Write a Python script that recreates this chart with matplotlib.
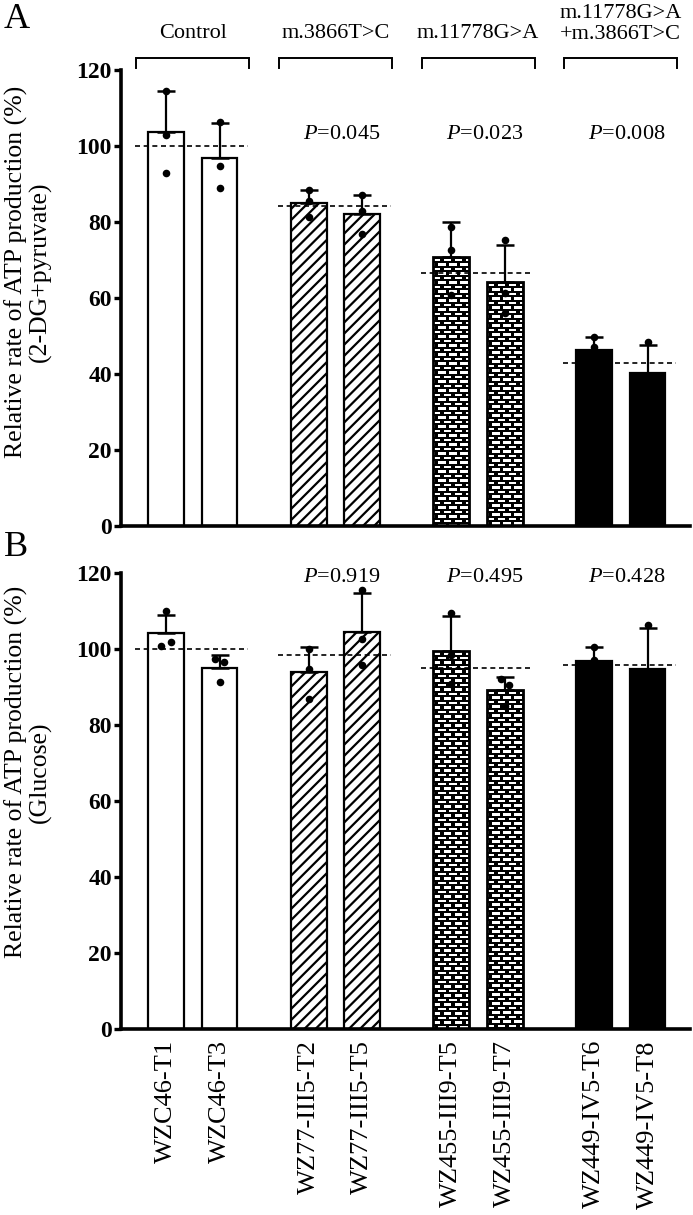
import numpy as np
import matplotlib
matplotlib.use('Agg')
import matplotlib.pyplot as plt
from matplotlib.patches import Rectangle

plt.rcParams['font.family'] = ['Liberation Serif', 'DejaVu Serif']
plt.rcParams['mathtext.fontset'] = 'custom'
plt.rcParams['mathtext.rm'] = 'Liberation Serif'
plt.rcParams['mathtext.it'] = 'Liberation Serif:italic'
plt.rcParams['hatch.linewidth'] = 1.6

# ---------------- data ----------------
samples = ['WZC46-T1', 'WZC46-T3', 'WZ77-III5-T2', 'WZ77-III5-T5',
           'WZ455-III9-T5', 'WZ455-III9-T7', 'WZ449-IV5-T6', 'WZ449-IV5-T8']
groups = ['Control', 'm.3866T>C', 'm.11778G>A', 'm.11778G>A\n+m.3866T>C']

a_means = [103.6, 96.8, 85.0, 82.2, 70.7, 64.2, 46.3, 40.3]
a_err = [10.9, 9.3, 3.4, 4.9, 9.2, 9.7, 3.4, 7.3]
a_points = [[114.6, 103.0, 92.8], [106.3, 94.8, 88.9], [88.4, 85.4, 81.2],
            [87.0, 82.9, 76.8], [78.7, 72.6, 60.8], [75.3, 61.2, 56.1],
            [49.7, 47.0, 42.2], [48.4, 38.5, 34.0]]
a_group_mean = [100.0, 84.1, 66.5, 42.9]
a_p = ['', '0.045', '0.023', '0.008']

b_means = [104.2, 95.1, 93.9, 104.6, 99.6, 89.2, 96.9, 94.7]
b_err = [4.8, 3.2, 6.5, 10.1, 9.2, 3.4, 3.5, 10.9]
b_points = [[109.9, 100.8, 101.8], [97.4, 96.5, 91.4], [99.9, 94.8, 86.9],
            [115.5, 102.6, 95.7], [109.5, 98.4, 90.9], [92.2, 90.4, 85.0],
            [100.4, 97.2, 93.1], [106.4, 91.0, 86.7]]
b_group_mean = [100.0, 98.4, 94.9, 95.8]
b_p = ['', '0.919', '0.495', '0.428']

ylabels = ['Relative rate of ATP production (%)\n(2-DG+pyruvate)',
           'Relative rate of ATP production (%)\n(Glucose)']
yticks = [0, 20, 40, 60, 80, 100, 120]

# ---------------- style ----------------
styles = ['open', 'hatch', 'brick', 'solid']
group_step = 8 / 3
xpos = [g * group_step + i for g in range(4) for i in range(2)]
bar_w = 0.67
# small horizontal offsets of dots (style only)
a_jit = [[0, 0, 0]] * 8
b_jit = [[0, -0.085, 0.085], [-0.085, 0.085, 0], [0, 0, 0], [0, 0, 0],
         [0, 0, 0], [-0.08, 0.08, 0], [0, 0, 0], [0, 0, 0]]

W, H = 693, 1215
fig = plt.figure(figsize=(W / 100, H / 100), dpi=100)
ax_left = 121
ax_right = 690
pxu = 53.5
x0 = (ax_left - 166) / pxu
x1 = (ax_right - 166) / pxu
axA = fig.add_axes([ax_left / W, 1 - 526 / H, (ax_right - ax_left) / W, 456 / H])
axB = fig.add_axes([ax_left / W, 1 - 1029 / H, (ax_right - ax_left) / W, 456 / H])


def brick_texture(h_px, w_px):
    sc = 2
    hh, ww = int(h_px * sc) + 1, int(w_px * sc) + 1
    r = np.arange(hh)[:, None]
    c = np.arange(ww)[None, :]
    row = r // 9
    within = r % 9
    shift = (row % 2) * 11
    cc = (c + shift) % 22
    img = ((within >= 4) & (cc < 15)).astype(float)
    return img


def draw_panel(ax, means, err, points, jit, gmeans, pvals, pval_y):
    for k, (x, m) in enumerate(zip(xpos, means)):
        st = styles[k // 2]
        if st == 'open':
            ax.bar(x, m, width=bar_w, facecolor='white', edgecolor='black',
                   linewidth=1.6, zorder=2)
        elif st == 'hatch':
            ax.bar(x, m, width=bar_w, facecolor='white', edgecolor='black',
                   hatch='///', linewidth=1.6, zorder=2)
        elif st == 'solid':
            ax.bar(x, m, width=bar_w, facecolor='black', edgecolor='black',
                   linewidth=1.6, zorder=2)
        else:
            rect = Rectangle((x - bar_w / 2, 0), bar_w, m, transform=ax.transData,
                             facecolor='none', edgecolor='none')
            ax.add_patch(rect)
            img = brick_texture(m * 3.8, bar_w * pxu)
            im = ax.imshow(img, cmap='gray', vmin=0, vmax=1, origin='upper',
                           extent=[x - bar_w / 2, x + bar_w / 2, 0, m],
                           interpolation='nearest', aspect='auto', zorder=2)
            im.set_clip_path(rect)
            ax.bar(x, m, width=bar_w, facecolor='none', edgecolor='black',
                   linewidth=2.0, zorder=2.1)
    ax.errorbar(xpos, means, yerr=[[0] * len(means), err], fmt='none',
                ecolor='black', elinewidth=1.6, capsize=6.5, capthick=1.8,
                zorder=3, clip_on=False)
    for k, (x, pts) in enumerate(zip(xpos, points)):
        ax.scatter([x + j for j in jit[k]], pts, s=30, color='black', zorder=4,
                   clip_on=False, linewidths=0)
    for g, gm in enumerate(gmeans):
        xa = xpos[2 * g] - bar_w / 2 - 0.24
        xb = xpos[2 * g + 1] + bar_w / 2 + 0.2
        ax.plot([xa, xb], [gm, gm], color='black', lw=1.2,
                linestyle=(0, (3, 2.2)), zorder=5)
        if pvals[g]:
            xc = (xpos[2 * g] + xpos[2 * g + 1]) / 2 + 0.12
            ax.text(xc, pval_y, r'$\mathit{P}$=' + pvals[g], ha='center',
                    va='center', fontsize=16)
    ax.set_xlim(x0, x1)
    ax.set_ylim(0, 120)
    ax.set_yticks(yticks)
    ax.set_yticklabels([str(t) for t in yticks], fontweight='bold', fontsize=17)
    for s in ['top', 'right']:
        ax.spines[s].set_visible(False)
    for s in ['left', 'bottom']:
        ax.spines[s].set_linewidth(2.6)
    ax.tick_params(axis='y', length=5, width=2.4, pad=1.5)
    ax.tick_params(axis='x', length=0)
    ax.patch.set_alpha(0)


draw_panel(axA, a_means, a_err, a_points, a_jit, a_group_mean, a_p, 102.9)
draw_panel(axB, b_means, b_err, b_points, b_jit, b_group_mean, b_p, 118.7)

axA.set_xticks([])
axB.set_xticks(xpos)
axB.set_xticklabels(samples, rotation=90, fontsize=19, va='top', ha='center')
axB.tick_params(axis='x', pad=8)

# group headers with brackets
for g, name in enumerate(groups):
    xa = xpos[2 * g] - bar_w / 2 - 0.22
    xb = xpos[2 * g + 1] + bar_w / 2 + 0.22
    axA.plot([xa, xa, xb, xb], [120.5, 123.2, 123.2, 120.5], color='black',
             lw=1.4, clip_on=False, solid_joinstyle='miter')
    xc = (xpos[2 * g] + xpos[2 * g + 1]) / 2
    yc = 129.6 if '\n' not in name else 132.0
    axA.text(xc, yc, name, ha='center', va='center', fontsize=16,
             linespacing=1.15, clip_on=False)

fig.text(4 / W, 1 - 19 / H, 'A', fontsize=26, ha='left', va='center')
fig.text(4 / W, 1 - 547 / H, 'B', fontsize=26, ha='left', va='center')
fig.text(28 / W, 1 - 272 / H, ylabels[0], rotation=90, ha='center',
         va='center', fontsize=18.5, linespacing=1.05)
fig.text(28 / W, 1 - 772 / H, ylabels[1], rotation=90, ha='center',
         va='center', fontsize=18.5, linespacing=1.05)

fig.savefig('out.png', dpi=100)
